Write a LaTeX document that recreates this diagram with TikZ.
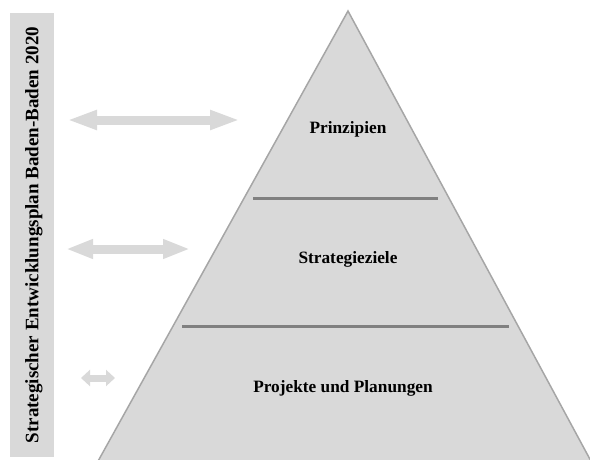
\documentclass[tikz,border=0pt]{standalone}
\usepackage{fontspec}
\setmainfont{Liberation Serif}
\usetikzlibrary{arrows.meta}
\definecolor{lightfill}{HTML}{D9D9D9}
\definecolor{edgegray}{HTML}{A6A6A6}
\definecolor{bargray}{HTML}{808080}
\tikzset{
  level/.style={font=\fontsize{17.3}{20}\selectfont\bfseries, anchor=base, inner sep=0pt},
  divider/.style={draw=bargray, line width=3pt},
  twoway/.style={draw=lightfill, line width=9pt, {Triangle[length=30pt,width=18pt]}-{Triangle[length=30pt,width=18pt]}},
}
\begin{document}
\begin{tikzpicture}[x=1pt, y=-1pt]
    \useasboundingbox (0, 0) rectangle (590, 459);
    % Side bar
    \fill[lightfill] (10, 13) rectangle (54, 457);
    \node[rotate=90, font=\fontsize{19}{22}\selectfont\bfseries, inner sep=0pt] (plan) at (34, 235) {Strategischer Entwicklungsplan Baden-Baden 2020};
    % Pyramid
    \coordinate (top) at (348, 11);
    \coordinate (left) at (97, 463);
    \coordinate (right) at (592, 463);
    \filldraw[fill=lightfill, draw=edgegray, line width=1.5pt, line join=miter] (top) -- (right) -- (left) -- cycle;
    % Dividers
    \coordinate (d1l) at (253, 198);
    \coordinate (d1r) at (438, 198);
    \coordinate (d2l) at (182, 326);
    \coordinate (d2r) at (509, 326);
    \draw[divider] (d1l) -- (d1r);
    \draw[divider] (d2l) -- (d2r);
    % Labels
    \node[level] (prinz) at (348, 133) {Prinzipien};
    \node[level] (ziele) at (348, 263) {Strategieziele};
    \node[level] (proj) at (343, 392) {Projekte und Planungen};
    % Arrows
    \coordinate (a1l) at (67, 120);
    \coordinate (a1r) at (240, 120);
    \coordinate (a2l) at (66, 249);
    \coordinate (a2r) at (190, 249);
    \coordinate (a3l) at (81, 378);
    \coordinate (a3r) at (115, 378);
    \draw[twoway] (a1l) -- (a1r);
    \draw[twoway, {Triangle[length=27pt,width=18pt]}-{Triangle[length=27pt,width=18pt]}] (a2l) -- (a2r);
    \draw[draw=lightfill, line width=7pt, {Triangle[length=9pt,width=16pt]}-{Triangle[length=9pt,width=16pt]}] (a3l) -- (a3r);
\end{tikzpicture}
\end{document}
